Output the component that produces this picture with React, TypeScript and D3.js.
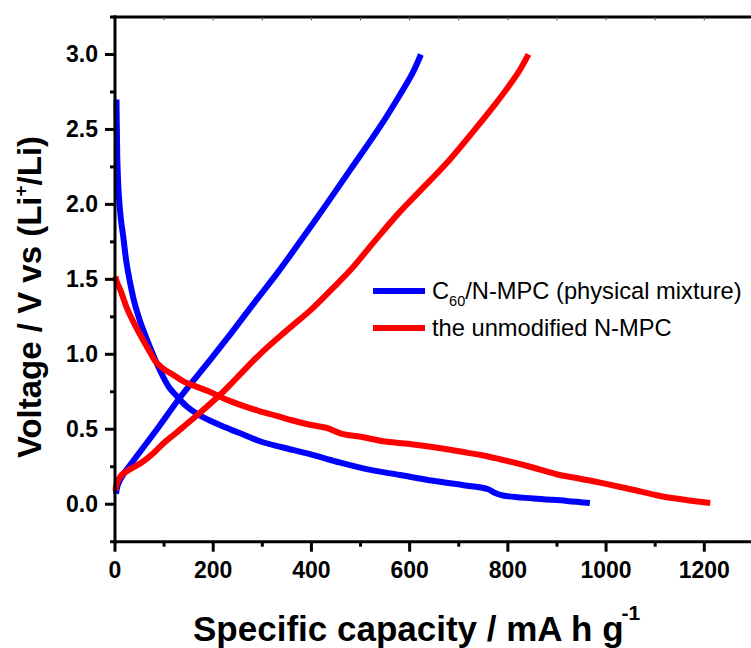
import React from "react";
import * as d3 from "d3";

// Galvanostatic profiles: [specific capacity (mA h g^-1), voltage (V vs Li+/Li)]
const blueDischarge: [number, number][] = [
  [3, 2.70], [4, 2.45], [5, 2.27], [8, 2.05], [12, 1.90], [17, 1.78], [23, 1.62],
  [30, 1.49], [40, 1.34], [51, 1.22], [71, 1.05], [92, 0.89], [110, 0.78],
  [126, 0.72], [145, 0.655], [166, 0.605], [195, 0.555], [227, 0.51], [261, 0.465],
  [295, 0.42], [340, 0.38], [397, 0.334], [450, 0.285], [512, 0.234], [580, 0.195],
  [648, 0.156], [710, 0.127], [760, 0.10], [774, 0.075], [790, 0.058], [852, 0.038],
  [920, 0.022], [967, 0.008],
];
const blueCharge: [number, number][] = [
  [2, 0.07], [5, 0.12], [10, 0.16], [17, 0.20], [35, 0.28], [58, 0.38], [90, 0.52],
  [132, 0.71], [193, 0.96], [241, 1.16], [285, 1.35], [330, 1.54], [370, 1.72],
  [424, 1.97], [479, 2.23], [540, 2.52], [580, 2.73], [605, 2.87], [623, 3.0],
];
const redDischarge: [number, number][] = [
  [1, 1.52], [3, 1.49], [12, 1.42], [24, 1.31], [40, 1.20], [58, 1.09], [72, 1.01],
  [82, 0.955], [100, 0.90], [120, 0.86], [139, 0.82], [165, 0.785], [193, 0.75],
  [225, 0.70], [261, 0.656], [295, 0.62], [329, 0.59], [360, 0.56], [397, 0.53],
  [430, 0.51], [465, 0.467], [500, 0.45], [546, 0.42], [590, 0.405], [628, 0.39],
  [670, 0.37], [716, 0.344], [750, 0.325], [784, 0.30], [840, 0.255], [899, 0.20],
  [940, 0.175], [988, 0.144], [1050, 0.10], [1110, 0.055], [1160, 0.03], [1212, 0.008],
];
const redCharge: [number, number][] = [
  [1, 0.09], [3, 0.13], [8, 0.17], [15, 0.20], [31, 0.234], [55, 0.28], [78, 0.34],
  [100, 0.41], [126, 0.48], [173, 0.61], [214, 0.73], [250, 0.85], [295, 1.0],
  [350, 1.16], [400, 1.30], [440, 1.43], [479, 1.56], [530, 1.76], [580, 1.95],
  [630, 2.12], [682, 2.30], [733, 2.50], [770, 2.65], [800, 2.78], [825, 2.90], [842, 3.0],
];

const xMajorTicks = [0, 200, 400, 600, 800, 1000, 1200];
const xMinorTicks = [100, 300, 500, 700, 900, 1100, 1300];
const xTopTicks = [100, 200, 300, 400, 500, 600, 700, 800, 900, 1000, 1100, 1200, 1300];
const yMajorTicks = [0, 0.5, 1.0, 1.5, 2.0, 2.5, 3.0];
const yMinorTicks = [-0.25, 0.25, 0.75, 1.25, 1.75, 2.25, 2.75, 3.25];

const seriesNames = ["C60/N-MPC (physical mixture)", "the unmodified N-MPC"];
const seriesColors = ["#0000ff", "#ff0000"];

const W = 751;
const H = 648;
const FONT = "'Liberation Sans', Arial, Helvetica, sans-serif";

export default function App() {
  const x = d3.scaleLinear().domain([0, 1300]).range([115, 753.4]);
  const y = d3.scaleLinear().domain([-0.25, 3.25]).range([541.7, 17]);

  const line = d3
    .line<[number, number]>()
    .x((d) => x(d[0]))
    .y((d) => y(d[1]))
    .curve(d3.curveCatmullRom.alpha(0.5));

  const curves = [
    { data: blueDischarge, color: seriesColors[0] },
    { data: blueCharge, color: seriesColors[0] },
    { data: redDischarge, color: seriesColors[1] },
    { data: redCharge, color: seriesColors[1] },
  ];

  const x0 = x(0);
  const yBottom = y(-0.25);
  const yTop = y(3.25);

  return (
    <svg
      width={W}
      height={H}
      viewBox={`0 0 ${W} ${H}`}
      style={{ position: "absolute", left: 0, top: 0, display: "block", background: "#fff" }}
    >
      <rect x={0} y={0} width={W} height={H} fill="#fff" />

      {/* curves */}
      <g fill="none" strokeWidth={6} strokeLinejoin="round" strokeLinecap="butt">
        {curves.map((c, i) => (
          <path key={i} d={line(c.data) || ""} stroke={c.color} />
        ))}
      </g>

      {/* frame */}
      <g stroke="#000" strokeWidth={3} fill="none">
        <line x1={x0} y1={yTop - 1.5} x2={x0} y2={yBottom + 1.5} />
        <line x1={x0 - 1.5} y1={yBottom} x2={W + 10} y2={yBottom} />
        <line x1={x0 - 1.5} y1={yTop} x2={W + 10} y2={yTop} />
      </g>

      {/* top axis ticks */}
      <g stroke="#555" strokeWidth={1}>
        {xTopTicks.map((t) => (
          <line key={t} x1={x(t)} x2={x(t)} y1={yTop} y2={yTop + 3.5} />
        ))}
      </g>

      {/* bottom axis ticks */}
      <g stroke="#000" strokeWidth={3}>
        {xMajorTicks.map((t) => (
          <line key={t} x1={x(t)} x2={x(t)} y1={yBottom} y2={yBottom + 10} />
        ))}
        {xMinorTicks.map((t) => (
          <line key={t} x1={x(t)} x2={x(t)} y1={yBottom} y2={yBottom + 5} />
        ))}
      </g>
      <g fontFamily={FONT} fontWeight="bold" fontSize={23} textAnchor="middle" fill="#000">
        {xMajorTicks.map((t) => (
          <text key={t} x={x(t)} y={578}>
            {t}
          </text>
        ))}
      </g>

      {/* left axis ticks */}
      <g stroke="#000" strokeWidth={3}>
        {yMajorTicks.map((t) => (
          <line key={t} x1={x0 - 10} x2={x0} y1={y(t)} y2={y(t)} />
        ))}
        {yMinorTicks.map((t) => (
          <line key={t} x1={x0 - 5} x2={x0} y1={y(t)} y2={y(t)} />
        ))}
      </g>
      <g fontFamily={FONT} fontWeight="bold" fontSize={23} textAnchor="end" fill="#000">
        {yMajorTicks.map((t) => (
          <text key={t} x={98} y={y(t) + 8}>
            {d3.format(".1f")(t)}
          </text>
        ))}
      </g>

      {/* axis titles */}
      <text x={193} y={641} fontFamily={FONT} fontWeight="bold" fontSize={35} fill="#000">
        Specific capacity / mA h g
        <tspan fontSize={21} dx={-2} dy={-21}>-1</tspan>
      </text>
      <text
        transform={`translate(41,${297}) rotate(-90)`}
        textAnchor="middle"
        fontFamily={FONT}
        fontWeight="bold"
        fontSize={33}
        fill="#000"
      >
        Voltage / V vs (Li
        <tspan fontSize={19} dy={-14}>+</tspan>
        <tspan dy={14}>/Li)</tspan>
      </text>

      {/* legend */}
      <g>
        <line x1={373} x2={425} y1={291} y2={291} stroke={seriesColors[0]} strokeWidth={6} />
        <line x1={373} x2={425} y1={328} y2={328} stroke={seriesColors[1]} strokeWidth={6} />
        <text x={432} y={299} fontFamily={FONT} fontSize={23.7} fill="#000">
          C<tspan fontSize={14.5} dy={7}>60</tspan>
          <tspan dy={-7}>/N-MPC (physical mixture)</tspan>
        </text>
        <text x={432} y={336} fontFamily={FONT} fontSize={23.7} fill="#000">
          {seriesNames[1]}
        </text>
      </g>
    </svg>
  );
}
